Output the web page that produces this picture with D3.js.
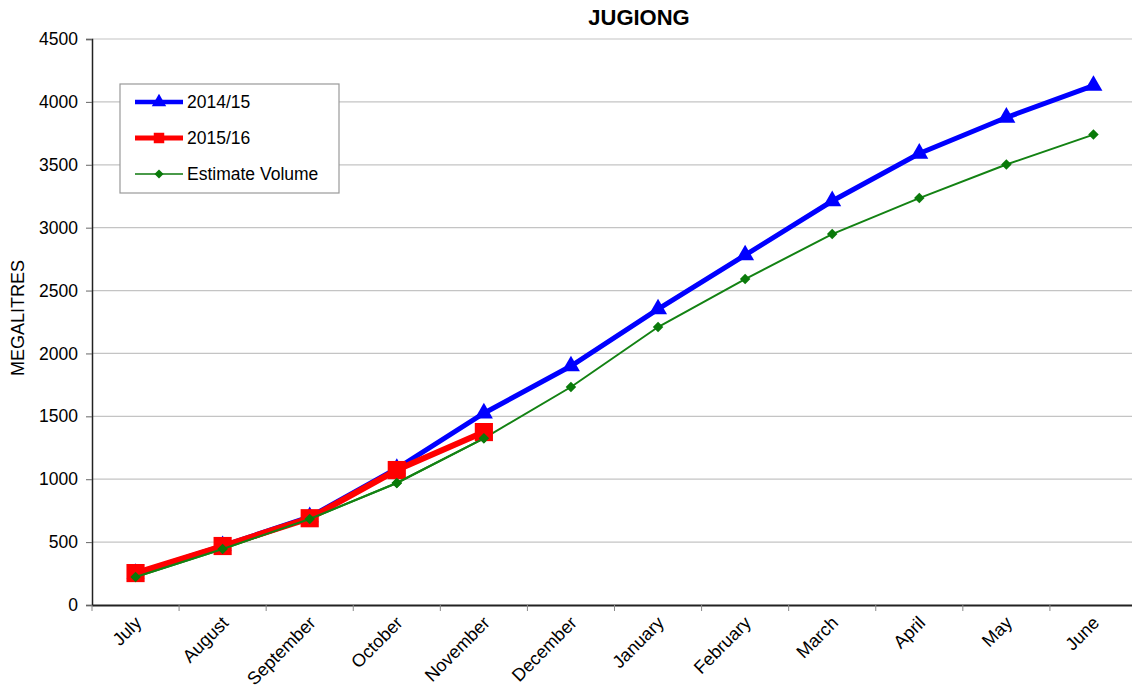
<!DOCTYPE html>
<html><head><meta charset="utf-8">
<script src="https://cdn.jsdelivr.net/npm/d3@7"></script>
<style>body{margin:0;background:#fff}text{font-family:"Liberation Sans",Arial,sans-serif}</style>
</head><body>
<svg id="c" width="1132" height="698"></svg>
<script>
const months = ["July","August","September","October","November","December","January","February","March","April","May","June"];
const s2014 = [250,470,700,1085,1525,1900,2352,2782,3212,3590,3876,4130];
const s2015 = [254,469,690,1073,1375];
const sEst = [223,445,684,970,1325,1733,2210,2591,2949,3235,3502,3740];
const yTicks = [0,500,1000,1500,2000,2500,3000,3500,4000,4500];
const seriesNames = ["2014/15","2015/16","Estimate Volume"];

const svg = d3.select("#c");
const L=92, R=1137, T=39, B=605;
const x = d3.scaleBand().domain(months).range([L,R]);
const y = d3.scaleLinear().domain([0,4500]).range([B,T]);
const cx = m => x(m)+x.bandwidth()/2;

// gridlines
svg.append("g").selectAll("line").data(yTicks.filter(d=>d>0)).join("line")
  .attr("x1",L).attr("x2",R).attr("y1",d=>y(d)).attr("y2",d=>y(d))
  .attr("stroke","#c4c4c4").attr("stroke-width",1.2);

// y axis
const ya = svg.append("g").attr("transform",`translate(${L},0)`)
  .call(d3.axisLeft(y).tickValues(yTicks).tickFormat(d3.format("d")).tickSize(6).tickPadding(8));
ya.select(".domain").attr("stroke","#222").attr("stroke-width",1.5);
ya.selectAll(".tick line").attr("stroke","#666");
ya.selectAll("text").attr("font-size",17.5).attr("fill","#000").attr("font-family","Liberation Sans, Arial, sans-serif");

// x axis
const xa = svg.append("g").attr("transform",`translate(0,${B})`)
  .call(d3.axisBottom(x).tickSize(0).tickFormat(""));
xa.select(".domain").attr("stroke","#222").attr("stroke-width",2);
svg.append("g").selectAll("line").data(months).join("line")
  .attr("x1",d=>x(d)).attr("x2",d=>x(d)).attr("y1",B).attr("y2",B+6).attr("stroke","#888");
svg.append("g").selectAll("text").data(months).join("text")
  .attr("transform",d=>`translate(${cx(d)+7},${B+19}) rotate(-45)`)
  .attr("text-anchor","end").attr("font-size",18).attr("fill","#000").text(d=>d);

// title, y label
svg.append("text").attr("x",639).attr("y",25).attr("text-anchor","middle")
  .attr("font-size",22).attr("font-weight","bold").text("JUGIONG");
svg.append("text").attr("transform",`translate(24,318) rotate(-90)`).attr("text-anchor","middle")
  .attr("font-size",18).text("MEGALITRES");

const line = d3.line().x((d,i)=>cx(months[i])).y(d=>y(d));
const tri = d3.symbol().type(d3.symbolTriangle);
const sq = d3.symbol().type(d3.symbolSquare);
const dia = d3.symbol().type(d3.symbolSquare);

// estimate
svg.append("path").datum(sEst).attr("d",line).attr("fill","none").attr("stroke","#138213").attr("stroke-width",2);
svg.append("g").selectAll("path").data(sEst).join("path")
  .attr("d",dia.size(55)).attr("transform",(d,i)=>`translate(${cx(months[i])},${y(d)}) rotate(45)`).attr("fill","#0a7a0a");
// 2014/15
svg.append("path").datum(s2014).attr("d",line).attr("fill","none").attr("stroke","#0000ff").attr("stroke-width",5);
svg.append("g").selectAll("path").data(s2014).join("path")
  .attr("d",tri.size(140)).attr("transform",(d,i)=>`translate(${cx(months[i])},${y(d)})`).attr("fill","#0000ff");
// 2015/16
svg.append("path").datum(s2015).attr("d",line).attr("fill","none").attr("stroke","#ff0000").attr("stroke-width",6);
svg.append("g").selectAll("path").data(s2015).join("path")
  .attr("d",sq.size(330)).attr("transform",(d,i)=>`translate(${cx(months[i])},${y(d)})`).attr("fill","#ff0000");
// estimate overlay on first months
svg.append("path").datum(sEst.slice(0,5)).attr("d",line).attr("fill","none").attr("stroke","#138213").attr("stroke-width",2);
svg.append("g").selectAll("path").data(sEst.slice(0,5)).join("path")
  .attr("d",dia.size(55)).attr("transform",(d,i)=>`translate(${cx(months[i])},${y(d)}) rotate(45)`).attr("fill","#0a7a0a");

// legend
const lg = svg.append("g");
lg.append("rect").attr("x",120).attr("y",84).attr("width",219).attr("height",109)
  .attr("fill","#fff").attr("stroke","#999").attr("stroke-width",1.2);
const styles = [
  {c:"#0000ff",w:4.5,sym:tri.size(90),fc:"#0000ff",r:0},
  {c:"#ff0000",w:5,sym:sq.size(110),fc:"#ff0000",r:0},
  {c:"#4a9a4a",w:2,sym:dia.size(40),fc:"#0a7a0a",r:45}];
seriesNames.forEach((n,i)=>{
  const yy = 102+i*36;
  lg.append("line").attr("x1",135).attr("x2",183).attr("y1",yy).attr("y2",yy).attr("stroke",styles[i].c).attr("stroke-width",styles[i].w);
  lg.append("path").attr("d",styles[i].sym).attr("transform",`translate(159,${yy}) rotate(${styles[i].r})`).attr("fill",styles[i].fc);
  lg.append("text").attr("x",187).attr("y",yy+6).attr("font-size",17.5).text(n);
});
</script>
</body></html>
